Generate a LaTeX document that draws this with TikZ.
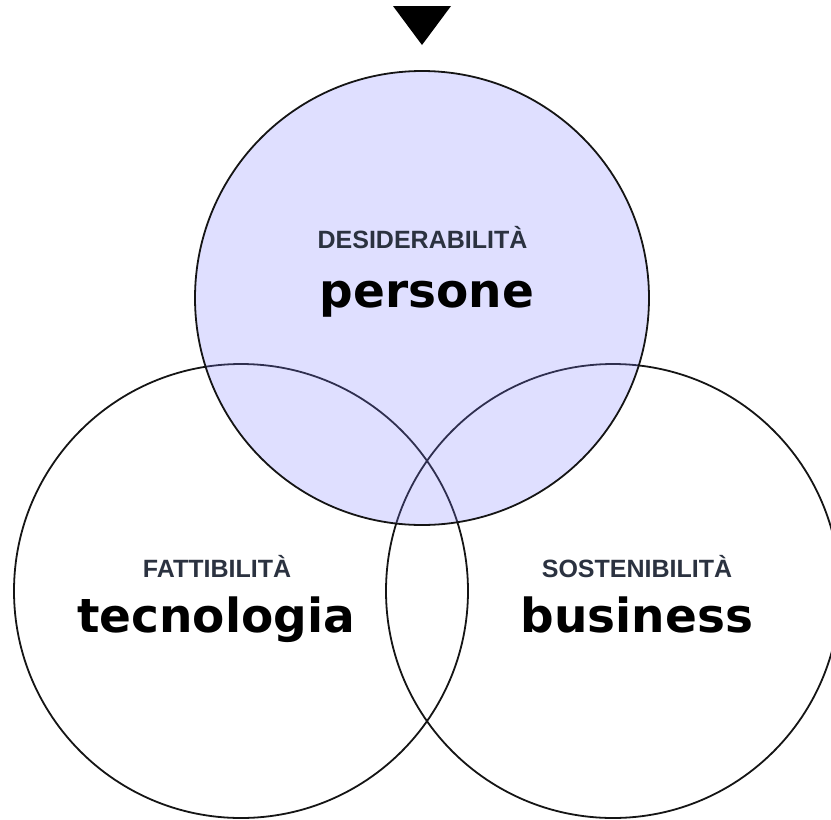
\documentclass[tikz,border=0pt]{standalone}
\usepackage{fontspec}
\setmainfont{Liberation Sans}
\newfontfamily\djv{DejaVu Sans}
\definecolor{ring}{HTML}{151515}
\definecolor{capcol}{HTML}{2B3240}
\definecolor{lav}{RGB}{128,128,255}
\begin{document}
\begin{tikzpicture}[x=1pt,y=-1pt,
  ringstyle/.style={circle, draw=ring, line width=1.8pt, minimum size=454pt, inner sep=0pt},
  captext/.style={anchor=base, text=capcol, font=\bfseries\fontsize{25}{30}\selectfont, inner sep=0pt},
  bigtext/.style={anchor=base, text=black, font=\djv\bfseries\fontsize{47}{56}\selectfont, inner sep=0pt}]
\useasboundingbox (0,0) rectangle (831,820);
\node[ringstyle] (left) at (241,591) {};
\node[ringstyle] (right) at (613,591) {};
\node[ringstyle, fill=lav, fill opacity=0.25] (top) at (422,298) {};
\fill[black] (393,6) -- (451,6) -- (422,45) -- cycle;
\node[captext] (c1) at (422.5,248) {DESIDERABILITÀ};
\node[bigtext] (t1) at (427,307) {persone};
\node[captext] (c2) at (217,577) {FATTIBILITÀ};
\node[bigtext] (t2) at (216,632) {tecnologia};
\node[captext] (c3) at (637,577) {SOSTENIBILITÀ};
\node[bigtext] (t3) at (637,632) {business};
\end{tikzpicture}
\end{document}
